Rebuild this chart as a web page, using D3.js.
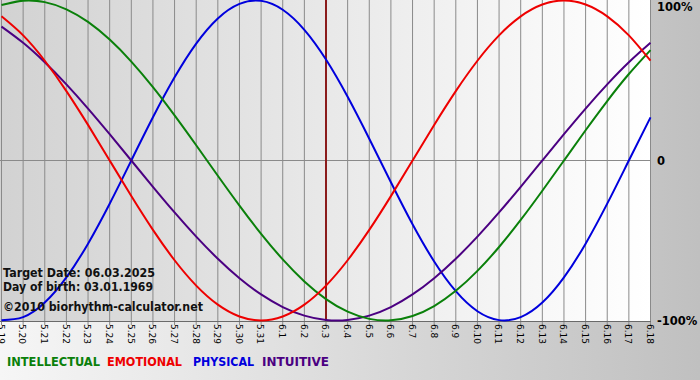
<!DOCTYPE html>
<html><head><meta charset="utf-8">
<script src="https://cdn.jsdelivr.net/npm/d3@7/dist/d3.min.js"></script>
<style>html,body{margin:0;padding:0;background:#fff;} svg{display:block;}</style>
</head><body>
<svg id="chart" width="700" height="380"></svg>
<script>
// ---- data ----
const dates = ["5.19","5.20","5.21","5.22","5.23","5.24","5.25","5.26","5.27","5.28","5.29","5.30","5.31",
  "6.1","6.2","6.3","6.4","6.5","6.6","6.7","6.8","6.9","6.10","6.11","6.12","6.13","6.14","6.15","6.16","6.17","6.18"];
const targetDate = "6.3";
const intellectual = [0.9718,0.9989,0.9898,0.9450,0.8660,0.7557,0.6182,0.4582,0.2817,0.0951,-0.0951,-0.2817,-0.4582,
  -0.6182,-0.7557,-0.8660,-0.9450,-0.9898,-0.9989,-0.9718,-0.9096,-0.8146,-0.6901,-0.5406,-0.3717,-0.1893,0,0.1893,0.3717,0.5406,0.6901];
const emotional = [0.9010,0.7818,0.6235,0.4339,0.2225,0,-0.2225,-0.4339,-0.6235,-0.7818,-0.9010,-0.9749,-1,
  -0.9749,-0.9010,-0.7818,-0.6235,-0.4339,-0.2225,0,0.2225,0.4339,0.6235,0.7818,0.9010,0.9749,1,0.9749,0.9010,0.7818,0.6235];
const physical = [-0.9977,-0.9791,-0.8879,-0.7308,-0.5196,-0.2698,0,0.2698,0.5196,0.7308,0.8879,0.9791,0.9977,
  0.9423,0.8170,0.6311,0.3984,0.1362,-0.1362,-0.3984,-0.6311,-0.8170,-0.9423,-0.9977,-0.9791,-0.8879,-0.7308,-0.5196,-0.2698,0,0.2698];
const intuitive = [0.8372,0.7357,0.6142,0.4759,0.3247,0.1646,0,-0.1646,-0.3247,-0.4759,-0.6142,-0.7357,-0.8372,
  -0.9158,-0.9694,-0.9966,-0.9966,-0.9694,-0.9158,-0.8372,-0.7357,-0.6142,-0.4759,-0.3247,-0.1646,0,0.1646,0.3247,0.4759,0.6142,0.7357];
const yTickValues = [1, 0, -1];
const yTickLabels = ["100%", "0", "-100%"];
const legendNames = ["INTELLECTUAL", "EMOTIONAL", "PHYSICAL", "INTUITIVE"];
const infoLines = ["Target Date: 06.03.2025", "Day of birth: 03.01.1969", "\u00A92010 biorhythm-calculator.net"];

// ---- drawing ----
const svg = d3.select("#chart");
const W = 700, H = 380;
const plot = {left: 0, right: 650, top: 0, bottom: 321};
const x = d3.scaleLinear().domain([0, dates.length - 1]).range([1.5, 650.5]);
const y = d3.scaleLinear().domain([-1, 1]).range([320.5, 0.5]);

const defs = svg.append("defs");
const bgGrad = defs.append("linearGradient").attr("id", "bg").attr("x1", 0).attr("x2", 1).attr("y1", 0).attr("y2", 0);
bgGrad.append("stop").attr("offset", "0%").attr("stop-color", "#f6f6f6");
bgGrad.append("stop").attr("offset", "100%").attr("stop-color", "#c0c0c0");
const plGrad = defs.append("linearGradient").attr("id", "pl").attr("x1", 0).attr("x2", 1).attr("y1", 0).attr("y2", 0);
plGrad.append("stop").attr("offset", "0%").attr("stop-color", "#d2d2d2");
plGrad.append("stop").attr("offset", "100%").attr("stop-color", "#ffffff");

svg.append("rect").attr("width", W).attr("height", H).attr("fill", "url(#bg)");
svg.append("rect").attr("x", plot.left).attr("y", plot.top)
  .attr("width", plot.right - plot.left).attr("height", plot.bottom - plot.top).attr("fill", "url(#pl)");

// vertical grid
svg.append("g").selectAll("line").data(dates).join("line")
  .attr("x1", (d, i) => x(i)).attr("x2", (d, i) => x(i))
  .attr("y1", plot.top).attr("y2", plot.bottom + 4)
  .attr("stroke", "#8a8a8a").attr("stroke-width", 1);
// zero line
svg.append("line").attr("x1", plot.left).attr("x2", plot.right + 1)
  .attr("y1", y(0)).attr("y2", y(0)).attr("stroke", "#8a8a8a");
// bottom axis line
svg.append("line").attr("x1", plot.left).attr("x2", plot.right + 1)
  .attr("y1", plot.bottom + 0.5).attr("y2", plot.bottom + 0.5).attr("stroke", "#6a6a6a");

// x labels (rotated)
svg.append("g").selectAll("text").data(dates).join("text")
  .attr("transform", (d, i) => `translate(${x(i) - 0.5},${plot.bottom + 3}) rotate(90)`)
  .attr("dy", "0.35em")
  .attr("font-family", "'DejaVu Sans', Verdana, sans-serif")
  .attr("font-size", 9).attr("fill", "#000")
  .text(d => d);

// right labels
svg.append("g").selectAll("text").data(yTickValues).join("text")
  .attr("x", 657).attr("y", d => Math.min(Math.max(y(d), 7), 321))
  .attr("dy", "0.38em")
  .attr("font-family", "'DejaVu Sans', Verdana, sans-serif")
  .attr("font-weight", "bold").attr("font-size", 11.5).attr("fill", "#000")
  .text((d, i) => yTickLabels[i]);

// target line
const ti = dates.indexOf(targetDate);
svg.append("line").attr("x1", x(ti)).attr("x2", x(ti)).attr("y1", plot.top).attr("y2", plot.bottom)
  .attr("stroke", "#8b1c1c").attr("stroke-width", 2);

// curves
const colors = ["#0a800a", "#ee0000", "#0000dd", "#4b0082"];
const series = [intellectual, emotional, physical, intuitive];
const line = d3.line().x((d, i) => x(i)).y(d => y(d)).curve(d3.curveNatural);
const drawOrder = [2, 3, 0, 1];
svg.append("g").selectAll("path").data(drawOrder).join("path")
  .attr("d", k => line(series[k]))
  .attr("fill", "none").attr("stroke", k => colors[k]).attr("stroke-width", 2);

// info text
const infoY = [277, 291, 311];
const infoW = [152, 150, 200];
svg.append("g").selectAll("text").data(infoLines).join("text")
  .attr("x", 3).attr("y", (d, i) => infoY[i])
  .attr("font-family", "'DejaVu Sans', Tahoma, sans-serif")
  .attr("font-weight", "bold").attr("font-size", 13).attr("fill", "#111")
  .attr("textLength", (d, i) => infoW[i]).attr("lengthAdjust", "spacingAndGlyphs")
  .text(d => d);

// legend
const legX = [7, 107, 193, 262];
const legW = [93, 75, 61, 67];
svg.append("g").selectAll("text").data(legendNames).join("text")
  .attr("x", (d, i) => legX[i]).attr("y", 366)
  .attr("font-family", "'DejaVu Sans', Tahoma, sans-serif")
  .attr("font-weight", "bold").attr("font-size", 13)
  .attr("fill", (d, i) => colors[i])
  .attr("textLength", (d, i) => legW[i]).attr("lengthAdjust", "spacingAndGlyphs")
  .text(d => d);
</script>
</body></html>
